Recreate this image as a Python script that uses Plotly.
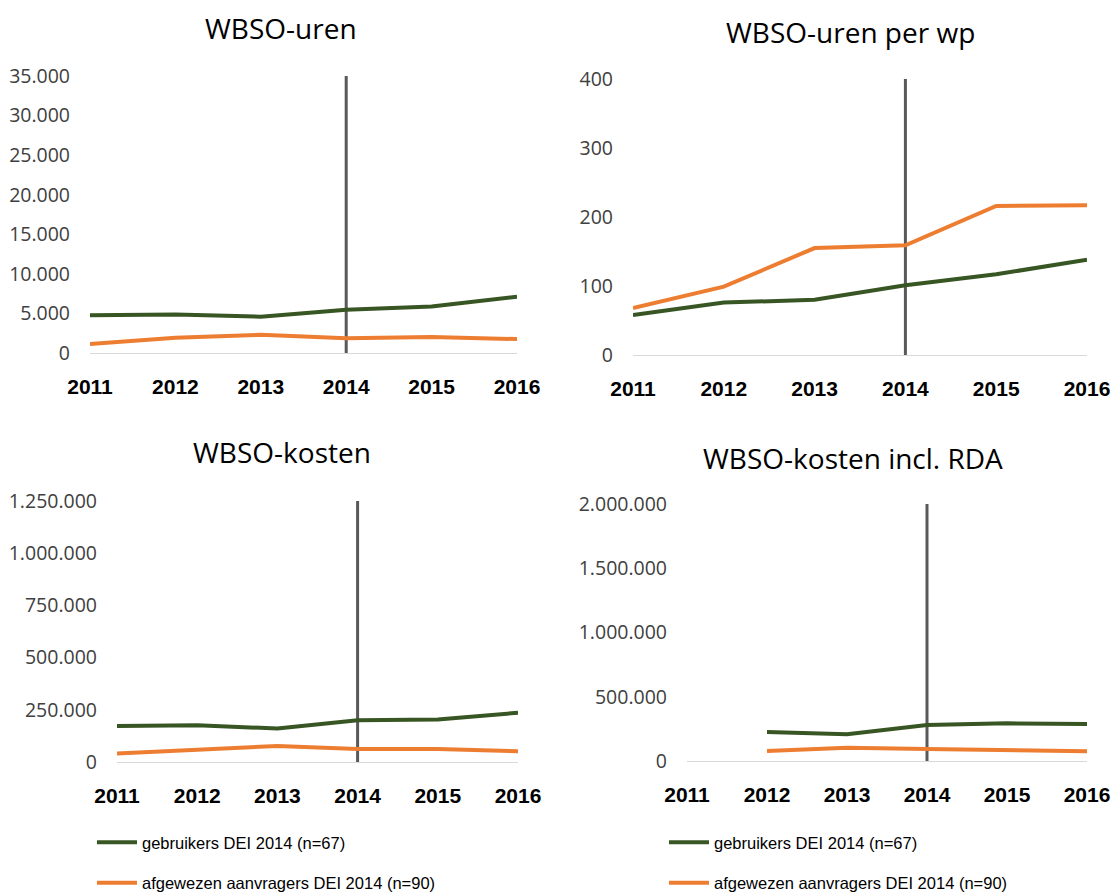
import plotly.graph_objects as go

years = [2011, 2012, 2013, 2014, 2015, 2016]
marker_year = 2014

series_names = ["gebruikers DEI 2014 (n=67)", "afgewezen aanvragers DEI 2014 (n=90)"]

# WBSO-uren
uren_gebruikers = [4760, 4880, 4590, 5470, 5890, 7120]
uren_afgewezen = [1140, 1940, 2310, 1850, 2020, 1760]
# WBSO-uren per wp
uren_wp_gebruikers = [58, 76, 80, 101, 117, 138]
uren_wp_afgewezen = [68, 99, 155, 159, 216, 217]
# WBSO-kosten
kosten_gebruikers = [172000, 176000, 160000, 200000, 203000, 236000]
kosten_afgewezen = [41000, 59000, 77000, 62000, 62000, 51000]
# WBSO-kosten incl. RDA
kosten_rda_gebruikers = [None, 226000, 208000, 280000, 293000, 288000]
kosten_rda_afgewezen = [None, 78000, 104000, 93000, 86000, 75000]

titles = ["WBSO-uren", "WBSO-uren per wp", "WBSO-kosten", "WBSO-kosten incl. RDA"]
y_max = [35000, 400, 1250000, 2000000]
y_dtick = [5000, 100, 250000, 500000]

GREEN = "#375623"
ORANGE = "#ED7D31"
VLINE = "#595959"

W, H = 1114, 893
# plot areas in pixels: (x0, x1, ytop, ybottom)
areas = [(90, 517, 76, 353), (633, 1087, 79, 355), (117, 518, 501, 762), (687, 1087, 504, 761)]
title_pos = [(281, 28), (850, 32), (282, 452), (853, 458)]

panels = [
    (uren_gebruikers, uren_afgewezen),
    (uren_wp_gebruikers, uren_wp_afgewezen),
    (kosten_gebruikers, kosten_afgewezen),
    (kosten_rda_gebruikers, kosten_rda_afgewezen),
]

fig = go.Figure()
layout = {}
for i, ((g, a), (x0, x1, yt, yb)) in enumerate(zip(panels, areas)):
    n = "" if i == 0 else str(i + 1)
    xa, ya = "x" + n, "y" + n
    show = i < 2
    leg = "legend" if i == 0 else "legend2"
    fig.add_trace(go.Scatter(x=[marker_year, marker_year], y=[0, y_max[i]], mode="lines",
                             line=dict(color=VLINE, width=3), xaxis=xa, yaxis=ya,
                             showlegend=False, hoverinfo="skip"))
    fig.add_trace(go.Scatter(x=years, y=g, mode="lines", name=series_names[0],
                             line=dict(color=GREEN, width=4), xaxis=xa, yaxis=ya,
                             showlegend=show, legend=leg, legendgroup="g" + str(i)))
    fig.add_trace(go.Scatter(x=years, y=a, mode="lines", name=series_names[1],
                             line=dict(color=ORANGE, width=4), xaxis=xa, yaxis=ya,
                             showlegend=show, legend=leg, legendgroup="o" + str(i)))
    layout["xaxis" + n] = dict(domain=[x0 / W, x1 / W], range=[2011, 2016], anchor=ya,
                               tickmode="array", tickvals=years, ticktext=[str(y) for y in years],
                               showgrid=False, zeroline=False, showline=True, linecolor="#D9D9D9",
                               linewidth=1, ticks="", ticklabelstandoff=15, automargin=False,
                               tickfont=dict(family="Liberation Sans", size=21, color="#000000", weight="bold"))
    layout["yaxis" + n] = dict(domain=[1 - yb / H, 1 - yt / H], range=[0, y_max[i]], anchor=xa,
                               dtick=y_dtick[i], tick0=0, tickformat=",d",
                               showgrid=False, zeroline=False, showline=False, ticks="",
                               ticklabelstandoff=19, automargin=False,
                               tickfont=dict(family="Open Sans", size=19.5, color="#404040"))

annotations = [dict(text=t, x=px / W, y=1 - py / H, xref="paper", yref="paper", showarrow=False,
                    xanchor="center", yanchor="middle",
                    font=dict(family="Open Sans", size=28, color="#000000"))
               for t, (px, py) in zip(titles, title_pos)]

legend_common = dict(orientation="v", xanchor="left", yanchor="top", tracegroupgap=16,
                     bgcolor="rgba(0,0,0,0)", itemwidth=40,
                     font=dict(family="Liberation Sans", size=16.5, color="#000000"))

fig.update_layout(
    width=W, height=H, margin=dict(l=0, r=0, t=0, b=0, autoexpand=False),
    paper_bgcolor="white", plot_bgcolor="white",
    separators=",.",
    annotations=annotations,
    legend=dict(x=92 / W, y=1 - 825 / H, **legend_common),
    legend2=dict(x=664 / W, y=1 - 825 / H, **legend_common),
    **layout,
)

fig.write_html("out.html", config={"displayModeBar": False},
               post_script="document.body.style.margin='0';document.body.style.overflow='hidden';")
